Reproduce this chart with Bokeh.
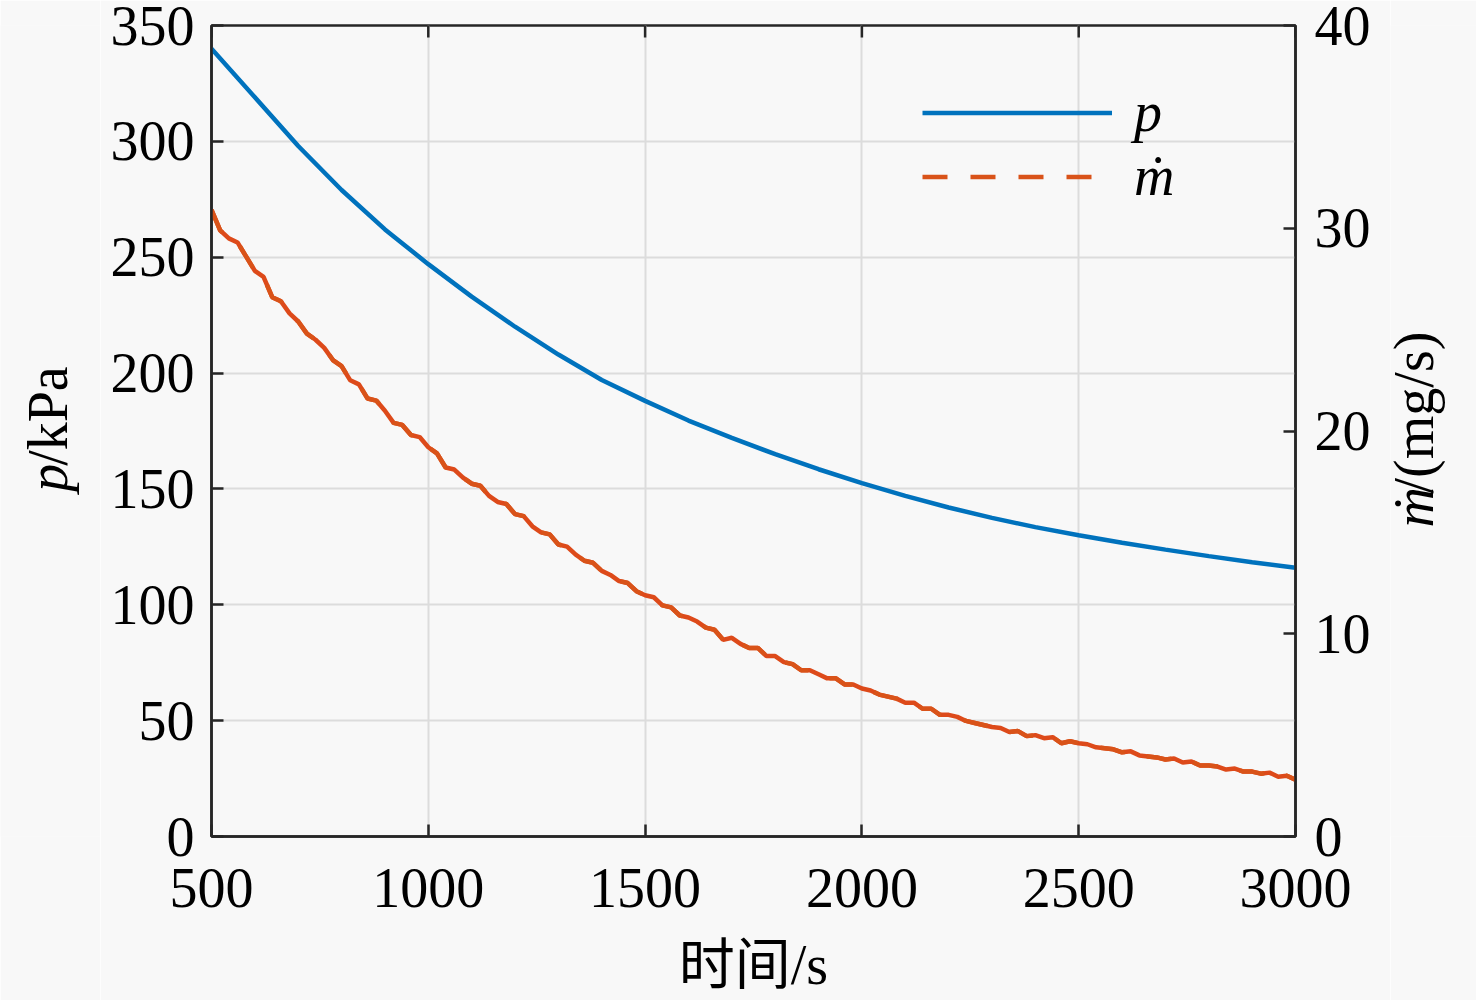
from bokeh.plotting import figure
from bokeh.layouts import row
from bokeh.models import (Range1d, LinearAxis, Legend, LegendItem,
                          FixedTicker, ColumnDataSource)
from bokeh.core.properties import value
from bokeh.embed import file_html
from bokeh.resources import INLINE
import math

# ---------------- data ----------------
x_ticks = [500, 1000, 1500, 2000, 2500, 3000]
yl_ticks = [0, 50, 100, 150, 200, 250, 300, 350]
yr_ticks = [0, 10, 20, 30, 40]

t_p = [500, 600, 700, 800, 900, 1000, 1100, 1200, 1300, 1400, 1500, 1600, 1700,
       1800, 1900, 2000, 2100, 2200, 2300, 2400, 2500, 2600, 2700, 2800, 2900, 3000]
p_kpa = [340, 319, 298, 279, 262, 247, 233, 220, 208, 197, 188, 179.5, 172,
         165, 158.5, 152.5, 147, 142, 137.5, 133.5, 130, 126.8, 123.8, 121, 118.4, 116]

t_m = list(range(500, 3001, 20))
m_dot = [30.9, 29.9, 29.5, 29.3, 28.6, 27.9, 27.6, 26.6, 26.4, 25.8,
         25.4, 24.8, 24.5, 24.1, 23.5, 23.2, 22.5, 22.3, 21.6, 21.5,
         21.0, 20.4, 20.3, 19.8, 19.7, 19.2, 18.9, 18.2, 18.1, 17.7,
         17.4, 17.3, 16.8, 16.5, 16.4, 15.9, 15.8, 15.3, 15.0, 14.9,
         14.4, 14.3, 13.9, 13.6, 13.5, 13.1, 12.9, 12.6, 12.5, 12.1,
         11.9, 11.8, 11.4, 11.3, 10.9, 10.8, 10.6, 10.3, 10.2, 9.7,
         9.8, 9.5, 9.3, 9.3, 8.9, 8.9, 8.6, 8.5, 8.2, 8.2,
         8.0, 7.8, 7.8, 7.5, 7.5, 7.3, 7.2, 7.0, 6.9, 6.8,
         6.6, 6.6, 6.3, 6.3, 6.0, 6.0, 5.9, 5.7, 5.6, 5.5,
         5.4, 5.35, 5.15, 5.2, 4.95, 5.0, 4.85, 4.9, 4.6, 4.7,
         4.6, 4.55, 4.4, 4.35, 4.3, 4.15, 4.2, 4.0, 3.95, 3.9,
         3.8, 3.85, 3.65, 3.7, 3.5, 3.5, 3.45, 3.3, 3.35, 3.2,
         3.2, 3.1, 3.15, 2.95, 3.0, 2.8]

legend_labels = ["p", "ṁ"]
x_label = "时间/s"
left_title = ["p", "/kPa"]          # italic part, upright part
right_title = ["ṁ", "/(mg/s)"]

# ---------------- style ----------------
FONT = "Liberation Serif"
CJK = "Liberation Serif, Noto Sans CJK SC"
FS = "56px"
BG = "#f8f8f8"
AX = "#262626"
BLUE = "#0072BD"
RED = "#DD4A1A"
ORANGE = "#D95319"

H = 1000
LW, RW = 100, 86          # side panels holding the rotated axis titles

p = figure(frame_width=1084, frame_height=811,
           x_range=Range1d(500, 3000), y_range=Range1d(0, 350),
           output_backend="svg", toolbar_location=None,
           min_border_left=111, min_border_right=95,
           min_border_top=25, min_border_bottom=164,
           background_fill_color=BG, border_fill_color=BG)
p.extra_y_ranges = {"m": Range1d(0, 40)}

x_axis = p.below[0]
y_axis = p.left[0]
x_axis.ticker = FixedTicker(ticks=x_ticks)
y_axis.ticker = FixedTicker(ticks=yl_ticks)

r_axis = LinearAxis(y_range_name="m", ticker=FixedTicker(ticks=yr_ticks))
p.add_layout(r_axis, "right")

for ax in (x_axis, y_axis, r_axis):
    ax.axis_line_width = 2.5
    ax.axis_line_color = AX
    ax.major_tick_in = 12
    ax.major_tick_out = 0
    ax.minor_tick_in = 0
    ax.minor_tick_out = 0
    ax.major_tick_line_width = 2.5
    ax.major_tick_line_color = AX
    ax.major_label_text_font = FONT
    ax.major_label_text_font_size = FS
    ax.major_label_text_color = "black"

x_axis.major_label_standoff = 32
y_axis.major_label_standoff = 17
r_axis.major_label_standoff = 19

x_axis.axis_label = x_label
x_axis.axis_label_text_font = CJK
x_axis.axis_label_text_font_size = FS
x_axis.axis_label_text_font_style = "normal"
x_axis.axis_label_text_color = "black"
x_axis.axis_label_standoff = 24

p.outline_line_color = AX
p.outline_line_width = 2.5

# inward ticks on the top border, at the x tick values
p.ray(x=x_ticks, y=[350] * len(x_ticks), length=12, length_units="screen",
      angle=-math.pi / 2, line_color=AX, line_width=2.5)

p.xgrid.ticker = FixedTicker(ticks=x_ticks)
p.ygrid.ticker = FixedTicker(ticks=yl_ticks)
p.grid.grid_line_color = "#dcdcdc"
p.grid.grid_line_width = 2

src_p = ColumnDataSource(dict(t=t_p, v=p_kpa))
src_m = ColumnDataSource(dict(t=t_m, v=m_dot))

r_p = p.line("t", "v", source=src_p, line_color=BLUE, line_width=4.5)
r_m = p.line("t", "v", source=src_m, y_range_name="m",
             line_color=RED, line_width=4.5)
r_m_dash = p.line("t", "v", source=src_m, y_range_name="m",
                  line_color=ORANGE, line_width=4.5, line_dash="25 23")

legend = Legend(items=[LegendItem(label=legend_labels[0], renderers=[r_p]),
                       LegendItem(label=legend_labels[1], renderers=[r_m_dash])],
                location=(711, 628), orientation="vertical",
                glyph_width=190, glyph_height=57, label_height=57,
                label_standoff=22, spacing=0, padding=0, margin=0,
                border_line_alpha=0, background_fill_alpha=0,
                label_text_font=FONT, label_text_font_size=FS,
                label_text_font_style="italic", label_text_color="black")
p.add_layout(legend)


def side_panel(w):
    f = figure(width=w, height=H, x_range=Range1d(0, w), y_range=Range1d(0, H),
               output_backend="svg", toolbar_location=None,
               x_axis_type=None, y_axis_type=None, min_border=0,
               background_fill_color=BG, border_fill_color=BG,
               outline_line_color=None)
    f.grid.visible = False
    return f


def vtext(f, x, y, txt, style):
    f.text(x=[x], y=[H - y], text=[txt], angle=math.pi / 2,
           text_align="left", text_baseline="alphabetic",
           text_font=value(FONT), text_font_size=value(FS),
           text_font_style=value(style), text_color="black")


left = side_panel(LW)
vtext(left, 47, 575, left_title[0], "italic")
vtext(left, 47, 543, left_title[1], "normal")

right = side_panel(RW)
vtext(right, 23, 619, right_title[0], "italic")
vtext(right, 23, 577, right_title[1], "normal")

layout = row(left, p, right, spacing=0)

open("out.html", "w").write(file_html(layout, INLINE))
